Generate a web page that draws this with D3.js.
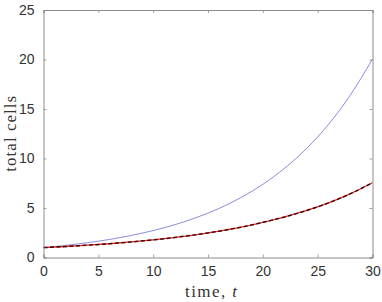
<!DOCTYPE html>
<html>
<head>
<meta charset="utf-8">
<script src="https://cdn.jsdelivr.net/npm/d3@7"></script>
<style>
html,body{margin:0;padding:0;background:#fff;}
svg{display:block;}
</style>
</head>
<body>
<svg id="chart" width="382" height="302"></svg>
<script>
// time points
const timePoints = [0, 2, 4, 6, 8, 10, 12, 14, 16, 18, 20, 22, 24, 26, 28, 30];
// blue series (upper curve)
const blueCells = [1.00, 1.22, 1.49, 1.82, 2.23, 2.72, 3.32, 4.06, 4.95, 6.05, 7.39, 9.03, 11.02, 13.46, 16.44, 20.05];
// red series (lower curve), overlaid by black dashed
const redCells = [1.00, 1.11, 1.24, 1.39, 1.57, 1.78, 2.03, 2.32, 2.66, 3.06, 3.55, 4.10, 4.75, 5.52, 6.45, 7.55];
const dashedCells = redCells.slice();
const xTicks = [0, 5, 10, 15, 20, 25, 30];
const yTicks = [0, 5, 10, 15, 20, 25];

const svg = d3.select("#chart");
const L = 43.5, R = 372.5, T = 10, B = 257.5;
const x = d3.scaleLinear().domain([0, 30]).range([L, R]);
const y = d3.scaleLinear().domain([0, 25]).range([B, T]);

const axisColor = "#8c8c8c";
const labelColor = "#333333";
const tickFont = "'Liberation Sans', Arial, sans-serif";
const serif = "'Liberation Serif', 'Times New Roman', serif";

svg.append("rect").attr("x", L).attr("y", T).attr("width", R - L).attr("height", B - T).attr("fill", "#fff");

const line = d3.line().x((d, i) => x(timePoints[i])).y(d => y(d)).curve(d3.curveMonotoneX);

svg.append("path").datum(blueCells).attr("d", line)
  .attr("fill", "none").attr("stroke", "#5a5ad0").attr("stroke-width", 0.7);
svg.append("path").datum(redCells).attr("d", line)
  .attr("fill", "none").attr("stroke", "#ff2020").attr("stroke-width", 1.3);
svg.append("path").datum(dashedCells).attr("d", line)
  .attr("fill", "none").attr("stroke", "#000").attr("stroke-opacity", 0.8)
  .attr("stroke-width", 1.5).attr("stroke-dasharray", "4,2.5");

const xAxisB = d3.axisBottom(x).tickValues(xTicks).tickSize(-3).tickPadding(9);
const xAxisT = d3.axisTop(x).tickValues(xTicks).tickSize(-3).tickFormat("");
const yAxisL = d3.axisLeft(y).tickValues(yTicks).tickSize(-3).tickPadding(9);
const yAxisR = d3.axisRight(y).tickValues(yTicks).tickSize(-3).tickFormat("");

function style(g) {
  g.select(".domain").attr("stroke", axisColor).attr("stroke-width", 1);
  g.selectAll(".tick line").attr("stroke", axisColor).attr("stroke-width", 0.8);
  g.selectAll(".tick text").attr("fill", labelColor).style("font-family", tickFont).style("font-size", "14px");
}
svg.append("g").attr("transform", `translate(0,${B})`).call(xAxisB).call(style);
svg.append("g").attr("transform", `translate(0,${T})`).call(xAxisT).call(style);
svg.append("g").attr("transform", `translate(${L},0)`).call(yAxisL).call(style);
svg.append("g").attr("transform", `translate(${R},0)`).call(yAxisR).call(style);

const xl = svg.append("text").attr("x", 185).attr("y", 297)
  .attr("textLength", 52).attr("lengthAdjust", "spacing")
  .attr("fill", labelColor).style("font-family", serif).style("font-size", "17px");
xl.append("tspan").text("time, ");
xl.append("tspan").style("font-style", "italic").text("t");

svg.append("text").attr("transform", `translate(16,${(T + B) / 2 + 38}) rotate(-90)`)
  .attr("textLength", 76).attr("lengthAdjust", "spacing")
  .attr("fill", labelColor).style("font-family", serif).style("font-size", "17px")
  .text("total cells");
</script>
</body>
</html>
